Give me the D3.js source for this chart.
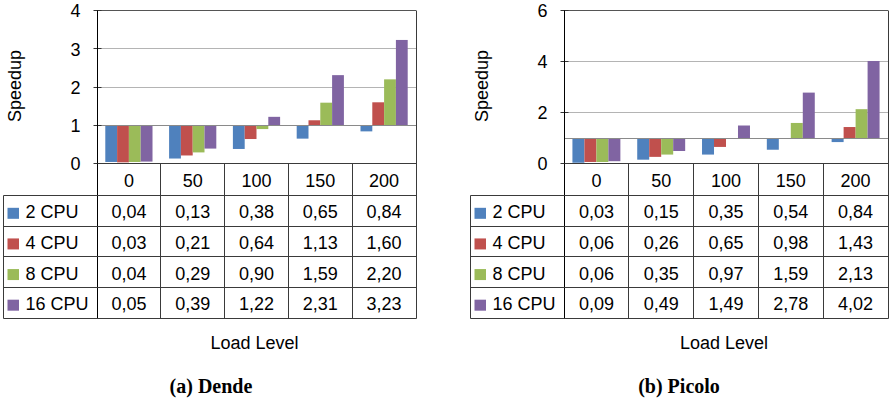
<!DOCTYPE html>
<html>
<head>
<meta charset="utf-8">
<script src="https://cdn.jsdelivr.net/npm/d3@7"></script>
<style>
  html, body { margin: 0; padding: 0; background: #fff; }
  svg { display: block; }
  text { font-family: "Liberation Sans", Arial, Helvetica, sans-serif; fill: #000; }
</style>
</head>
<body>
<svg id="chart" width="890" height="404"></svg>
<script>
// ---- data ----
const categories = ["0", "50", "100", "150", "200"];
const seriesNames = ["2 CPU", "4 CPU", "8 CPU", "16 CPU"];
const seriesColors = ["#4F81BD", "#C0504D", "#9BBB59", "#8064A2"];

const dende2 = [0.04, 0.13, 0.38, 0.65, 0.84];
const dende4 = [0.03, 0.21, 0.64, 1.13, 1.60];
const dende8 = [0.04, 0.29, 0.90, 1.59, 2.20];
const dende16 = [0.05, 0.39, 1.22, 2.31, 3.23];

const picolo2 = [0.03, 0.15, 0.35, 0.54, 0.84];
const picolo4 = [0.06, 0.26, 0.65, 0.98, 1.43];
const picolo8 = [0.06, 0.35, 0.97, 1.59, 2.13];
const picolo16 = [0.09, 0.49, 1.49, 2.78, 4.02];

const dendeTicks = [0, 1, 2, 3, 4];
const picoloTicks = [0, 2, 4, 6];

const yTitle = "Speedup";
const xTitle = "Load Level";
const captions = ["(a) Dende", "(b) Picolo"];

// ---- layout ----
const svg = d3.select("#chart");
const fmt = v => d3.format(".2f")(v).replace(".", ",");

const panels = [
  { series: [dende2, dende4, dende8, dende16], ticks: dendeTicks, ymax: 4,
    legendLeft: 3, plotLeft: 97, plotRight: 416, caption: captions[0], captionX: 211 },
  { series: [picolo2, picolo4, picolo8, picolo16], ticks: picoloTicks, ymax: 6,
    legendLeft: 470, plotLeft: 564, plotRight: 888, caption: captions[1], captionX: 679 }
];

const plotTop = 10.5, plotBottom = 163.5;
const headerBottom = 195.5, tableBottom = 318;
const lineColor = "#3a3a3a";
const px = v => Math.round(v - 0.5) + 0.5;

panels.forEach(p => {
  const g = svg.append("g");
  const y = d3.scaleLinear().domain([0, p.ymax]).range([plotBottom, plotTop]);
  const x = d3.scaleBand().domain(categories).range([p.plotLeft, p.plotRight]).padding(0);
  const cw = x.bandwidth();
  const pad = cw * 0.13;
  const xs = d3.scaleBand().domain(d3.range(seriesNames.length)).range([pad, cw - pad]).padding(0);

  // gridlines (excluding 0 and top)
  p.ticks.filter(t => t > 0 && t < p.ymax).forEach(t => {
    g.append("line")
      .attr("x1", p.plotLeft).attr("x2", p.plotRight)
      .attr("y1", px(y(t))).attr("y2", px(y(t)))
      .attr("stroke", "#b4b4b4").attr("stroke-width", 1);
  });

  // bars from baseline 1
  p.series.forEach((vals, si) => {
    g.selectAll(null).data(vals).enter().append("rect")
      .attr("x", (d, i) => x(categories[i]) + xs(si))
      .attr("width", xs.bandwidth())
      .attr("y", d => Math.min(y(d), y(1)))
      .attr("height", d => Math.abs(y(d) - y(1)))
      .attr("fill", seriesColors[si]);
  });

  // horizontal axis crossing at 1
  g.append("line")
    .attr("x1", p.plotLeft).attr("x2", p.plotRight)
    .attr("y1", px(y(1))).attr("y2", px(y(1)))
    .attr("stroke", "#8a8a8a").attr("stroke-width", 1);

  // plot top & right border
  g.append("line").attr("x1", p.plotLeft).attr("x2", p.plotRight)
    .attr("y1", px(plotTop)).attr("y2", px(plotTop))
    .attr("stroke", "#555").attr("stroke-width", 1);

  // y axis with crossing ticks
  const yAxis = d3.axisLeft(y).tickValues(p.ticks).tickSize(0).tickPadding(17).tickFormat(d3.format("d"));
  const ag = g.append("g").attr("transform", `translate(${px(p.plotLeft)},0)`).call(yAxis);
  ag.select(".domain").remove();
  ag.selectAll(".tick text")
    .style("font-family", "'Liberation Sans', Arial, sans-serif")
    .attr("font-size", 18).attr("fill", "#000").attr("dy", "0.36em");
  p.ticks.forEach(t => {
    g.append("line").attr("x1", px(p.plotLeft) - 4).attr("x2", px(p.plotLeft) + 4)
      .attr("y1", px(y(t))).attr("y2", px(y(t)))
      .attr("stroke", "#333").attr("stroke-width", 1);
  });

  // y title
  g.append("text")
    .attr("transform", `translate(${p.legendLeft + 18},86) rotate(-90)`)
    .attr("text-anchor", "middle")
    .attr("font-size", 18)
    .text(yTitle);

  // ---- data table ----
  const rowH = (tableBottom - headerBottom) / seriesNames.length;
  const lines = [];
  // left axis line full height
  lines.push([p.plotLeft, plotTop, p.plotLeft, tableBottom]);
  // right border
  lines.push([p.plotRight, plotTop, p.plotRight, tableBottom]);
  // x-axis / header top
  lines.push([p.plotLeft, plotBottom, p.plotRight, plotBottom]);
  // header bottom (includes legend column top)
  lines.push([p.legendLeft, headerBottom, p.plotRight, headerBottom]);
  // row lines
  seriesNames.forEach((s, i) => {
    const yy = headerBottom + rowH * (i + 1);
    lines.push([p.legendLeft, yy, p.plotRight, yy]);
  });
  // legend left border
  lines.push([p.legendLeft, headerBottom, p.legendLeft, tableBottom]);
  // column separators
  categories.slice(1).forEach(c => {
    lines.push([x(c), plotBottom, x(c), tableBottom]);
  });
  g.selectAll(null).data(lines).enter().append("line")
    .attr("x1", d => px(d[0])).attr("y1", d => px(d[1]))
    .attr("x2", d => px(d[2])).attr("y2", d => px(d[3]))
    .attr("stroke", d => (d[0] === p.plotLeft && d[2] === p.plotLeft) ? "#000" : lineColor)
    .attr("stroke-width", 1);

  // header labels
  g.selectAll(null).data(categories).enter().append("text")
    .attr("x", d => x(d) + cw / 2)
    .attr("y", (plotBottom + headerBottom) / 2 + 7)
    .attr("text-anchor", "middle")
    .attr("font-size", 18)
    .text(d => d);

  // rows
  seriesNames.forEach((s, si) => {
    const top = headerBottom + rowH * si;
    const cy = top + rowH / 2;
    g.append("rect")
      .attr("x", p.legendLeft + 4.5).attr("y", cy - 3)
      .attr("width", 11.5).attr("height", 11)
      .attr("fill", seriesColors[si]);
    g.append("text")
      .attr("x", p.legendLeft + 22.5).attr("y", cy + 7.5)
      .attr("font-size", 18)
      .text(s);
    g.selectAll(null).data(p.series[si]).enter().append("text")
      .attr("x", (d, i) => x(categories[i]) + cw / 2)
      .attr("y", cy + 7.5)
      .attr("text-anchor", "middle")
      .attr("font-size", 18)
      .text(d => fmt(d));
  });

  // x title
  g.append("text")
    .attr("x", (p.plotLeft + p.plotRight) / 2 - 2)
    .attr("y", 349)
    .attr("text-anchor", "middle")
    .attr("font-size", 18)
    .text(xTitle);

  // caption
  g.append("text")
    .attr("x", p.captionX)
    .attr("y", 393)
    .attr("text-anchor", "middle")
    .attr("font-size", 20)
    .attr("font-weight", "bold")
    .style("font-family", "'Liberation Serif', 'Times New Roman', serif")
    .text(p.caption);
});
</script>
</body>
</html>
